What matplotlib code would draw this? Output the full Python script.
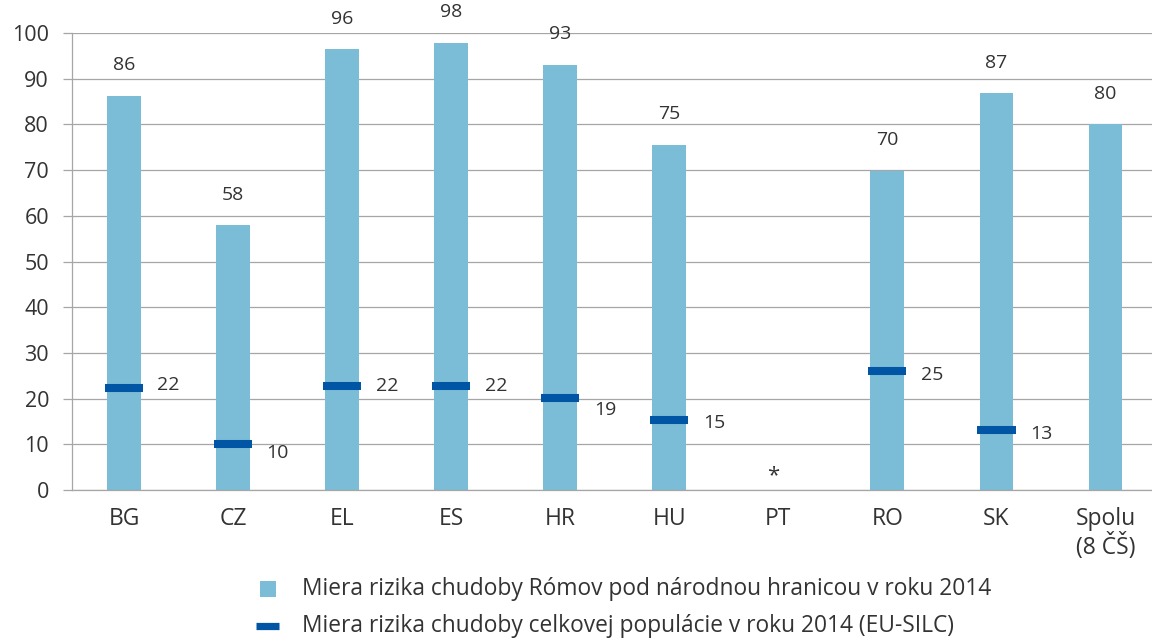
import numpy as np
import matplotlib
matplotlib.use("Agg")
import matplotlib.pyplot as plt
from matplotlib.patches import Rectangle
from matplotlib.lines import Line2D

# ---- data ----
categories = ["BG", "CZ", "EL", "ES", "HR", "HU", "PT", "RO", "SK", "Spolu\n(8 ČŠ)"]
roma_rate = [86.3, 57.9, 96.4, 97.9, 93.1, 75.6, np.nan, 69.9, 86.8, 80.0]
roma_labels = ["86", "58", "96", "98", "93", "75", "", "70", "87", "80"]
total_rate = [22.3, 10.0, 22.8, 22.8, 20.2, 15.3, np.nan, 26.0, 13.2, np.nan]
total_labels = ["22", "10", "22", "22", "19", "15", "", "25", "13", ""]
total_label_dy = [0.7, -1.9, 0.0, 0.0, -2.7, -0.6, 0.0, -0.9, -1.0, 0.0]
missing_mark = {"PT": "*"}
legend_labels = ["Miera rizika chudoby Rómov pod národnou hranicou v roku 2014",
                 "Miera rizika chudoby celkovej populácie v roku 2014 (EU-SILC)"]
y_ticks = list(range(0, 101, 10))

# ---- style ----
BAR_C = "#7bbcd6"
MARK_C = "#0055a5"
GRID_C = "#a6a6a6"
TXT_C = "#333333"
plt.rcParams["font.family"] = ["Open Sans", "DejaVu Sans"]

W, H = 1152, 638
fig = plt.figure(figsize=(W / 100, H / 100), dpi=100)
ax = fig.add_axes([72 / W, 1 - 490 / H, 1088 / W, 457 / H])

x = np.arange(len(categories))
ax.bar(x, roma_rate, width=0.31, color=BAR_C, zorder=2)
ax.hlines(total_rate, x - 0.175, x + 0.175, colors=MARK_C, linewidth=5.8,
          zorder=3, capstyle="butt")

for xi, v, lab in zip(x, roma_rate, roma_labels):
    if lab:
        ax.annotate(lab, (xi, v), xytext=(0, 22), textcoords="offset points",
                    ha="center", va="center", fontsize=14, color=TXT_C)
for xi, v, lab, dy in zip(x, total_rate, total_labels, total_label_dy):
    if lab:
        ax.text(xi + 0.41, v + dy, lab, ha="center", va="center",
                fontsize=14, color=TXT_C)
for cat, sym in missing_mark.items():
    ax.text(categories.index(cat) - 0.05, 3.2, sym, ha="center", va="center",
            fontsize=16, color=TXT_C)

ax.set_xlim(-0.477, len(categories) - 0.5)
ax.set_ylim(0, 100)
ax.set_yticks(y_ticks)
ax.set_xticks(x)
ax.set_xticklabels(categories, fontsize=16.5, color=TXT_C, linespacing=1.1)
ax.tick_params(axis="y", length=6.5, width=0.9, color=GRID_C, pad=10,
               labelsize=15.5, labelcolor=TXT_C)
ax.tick_params(axis="x", length=0, pad=12)
ax.grid(axis="y", color=GRID_C, linewidth=0.9, zorder=0)
ax.set_axisbelow(True)
for s in ["top", "right"]:
    ax.spines[s].set_visible(False)
for s in ["left", "bottom"]:
    ax.spines[s].set_color(GRID_C)
    ax.spines[s].set_linewidth(0.9)

# ---- legend (manual, below the plot) ----
fig.add_artist(Rectangle((260 / W, 1 - 597 / H), 16 / W, 16 / H,
                         transform=fig.transFigure, facecolor=BAR_C,
                         edgecolor="none"))
fig.add_artist(Line2D([256 / W, 279 / W], [1 - 626 / H, 1 - 626 / H],
                      transform=fig.transFigure, color=MARK_C, linewidth=5.2,
                      solid_capstyle="butt"))
fig.text(302 / W, 1 - 595 / H, legend_labels[0], ha="left", va="baseline",
         fontsize=16.4, color=TXT_C)
fig.text(302 / W, 1 - 632 / H, legend_labels[1], ha="left", va="baseline",
         fontsize=16.4, color=TXT_C)

fig.savefig("out.png", dpi=100)
